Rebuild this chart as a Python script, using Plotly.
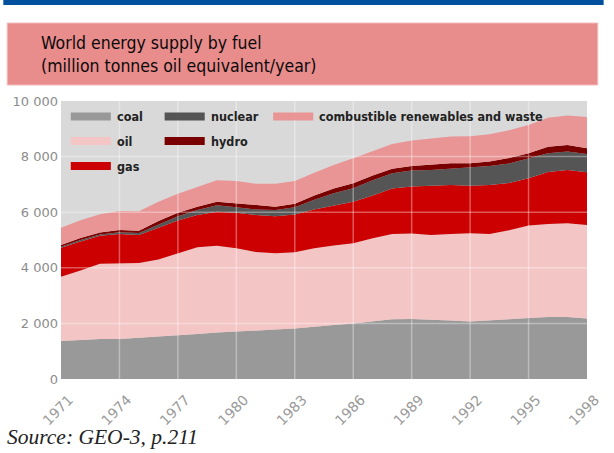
import plotly.graph_objects as go

years = list(range(1971, 1999))
coal = [1370, 1410, 1440, 1440, 1480, 1530, 1570, 1620, 1670, 1700, 1730, 1780, 1820, 1870,
        1940, 2000, 2080, 2150, 2160, 2140, 2100, 2070, 2100, 2150, 2190, 2230, 2230, 2180]
oil = [2310, 2490, 2710, 2720, 2690, 2770, 2950, 3120, 3120, 3000, 2840, 2740, 2740, 2830,
       2860, 2880, 2980, 3070, 3070, 3040, 3120, 3170, 3120, 3200, 3330, 3350, 3370, 3360]
gas = [1040, 1050, 1000, 1060, 1010, 1150, 1180, 1160, 1230, 1280, 1330, 1330, 1360, 1400,
       1450, 1500, 1540, 1630, 1690, 1770, 1760, 1710, 1760, 1700, 1700, 1870, 1920, 1900]
nuclear = [40, 50, 50, 60, 70, 110, 150, 180, 230, 200, 200, 230, 260, 350,
           430, 480, 550, 550, 580, 570, 580, 650, 680, 700, 720, 670, 660, 650]
hydro = [60, 70, 70, 80, 80, 120, 130, 120, 130, 140, 150, 120, 120, 150,
         170, 180, 170, 160, 160, 180, 200, 160, 160, 200, 180, 230, 240, 210]
renewables = [620, 640, 660, 680, 700, 700, 680, 700, 770, 800, 770, 820, 820, 820,
              850, 900, 880, 890, 920, 940, 960, 970, 980, 1000, 1020, 1050, 1060, 1120]

series_names = ["coal", "oil", "gas", "nuclear", "hydro", "combustible renewables and waste"]
series_values = [coal, oil, gas, nuclear, hydro, renewables]
series_colors = ["#999999", "#f4c5c5", "#cc0000", "#555555", "#7a0000", "#e99595"]

y_ticks = [0, 2000, 4000, 6000, 8000, 10000]
y_tick_labels = ["0", "2 000", "4 000", "6 000", "8 000", "10 000"]
x_ticks = list(range(1971, 1999, 3))

W, H = 614, 453
PL, PR, PT, PB = 59, 597, 101, 379

COND = "DejaVu Sans Condensed, sans-serif"


def px(x):
    return (x - PL) / (PR - PL)


def py(y):
    return (PB - y) / (PB - PT)


fig = go.Figure()
for name, vals, col in zip(series_names, series_values, series_colors):
    fig.add_trace(go.Scatter(
        x=years, y=vals, name=name, stackgroup="one", mode="lines",
        line=dict(width=0, color=col), fillcolor=col, showlegend=False,
        hoverinfo="x+y+name"))

shapes = []
annotations = []

# top blue bar
shapes.append(dict(type="rect", xref="paper", yref="paper", x0=px(0), x1=px(W), y0=py(5), y1=py(0),
                   fillcolor="#00509e", line=dict(width=0), layer="above"))
# title box
shapes.append(dict(type="rect", xref="paper", yref="paper", x0=px(4), x1=px(608), y0=py(85), y1=py(23),
                   fillcolor="#e98c8c", line=dict(width=1, color="#f3bcbc"), layer="above"))
annotations.append(dict(xref="paper", yref="paper", x=px(36), y=py(55), xanchor="left", yanchor="middle",
                        text="World energy supply by fuel<br>(million tonnes oil equivalent/year)",
                        showarrow=False, align="left",
                        font=dict(family=COND, size=17.5, color="#0a0a0a")))

# gridlines above the areas
for v in [2000, 4000, 6000, 8000]:
    shapes.append(dict(type="line", xref="paper", yref="y", x0=0, x1=1, y0=v, y1=v,
                       line=dict(color="rgba(255,255,255,0.35)", width=1.5), layer="above"))
for yr in x_ticks[1:-1]:
    shapes.append(dict(type="line", xref="x", yref="paper", x0=yr, x1=yr, y0=0, y1=1,
                       line=dict(color="rgba(255,255,255,0.35)", width=1.5), layer="above"))

# legend (manual)
legend_items = [
    ("coal", 69, 116.5), ("oil", 69, 141), ("gas", 69, 166),
    ("nuclear", 165, 116.5), ("hydro", 165, 141),
    ("combustible renewables and waste", 276, 116.5),
]
color_map = dict(zip(series_names, series_colors))
for name, x0, yc in legend_items:
    shapes.append(dict(type="rect", xref="paper", yref="paper", x0=px(x0), x1=px(x0 + 41),
                       y0=py(yc + 4), y1=py(yc - 4), fillcolor=color_map[name],
                       line=dict(width=0), layer="above"))
    annotations.append(dict(xref="paper", yref="paper", x=px(x0 + 45), y=py(yc), xanchor="left",
                            yanchor="middle", text="<b>" + name + "</b>", showarrow=False,
                            font=dict(family=COND, size=12.5, color="#222222")))

annotations.append(dict(xref="paper", yref="paper", x=px(2), y=py(437), xanchor="left", yanchor="middle",
                        text="<i>Source: GEO-3, p.211</i>", showarrow=False,
                        font=dict(family="Liberation Serif, serif", size=21.5, color="#222222")))

fig.update_layout(
    width=W, height=H,
    margin=dict(l=PL, r=W - PR, t=PT, b=H - PB),
    paper_bgcolor="white", plot_bgcolor="#d9d9d9",
    shapes=shapes, annotations=annotations, showlegend=False,
    xaxis=dict(range=[1971, 1998], tickvals=x_ticks, ticktext=[str(v) for v in x_ticks],
               tickangle=-45, showgrid=False, zeroline=False, showline=False,
               ticklabelstandoff=9, ticklabelshift=8,
               tickfont=dict(family="DejaVu Sans, sans-serif", size=14, color="#999999"),
               ticks="", fixedrange=True),
    yaxis=dict(range=[0, 10000], tickvals=y_ticks, ticktext=y_tick_labels, showgrid=False,
               zeroline=False, showline=False, ticks="", ticklabelstandoff=2,
               tickfont=dict(family="DejaVu Sans, sans-serif", size=13, color="#8c8c8c"),
               fixedrange=True),
)

fig.write_html("out.html", config={"displayModeBar": False},
               post_script="document.body.style.margin='0px';document.body.style.overflow='hidden';")
